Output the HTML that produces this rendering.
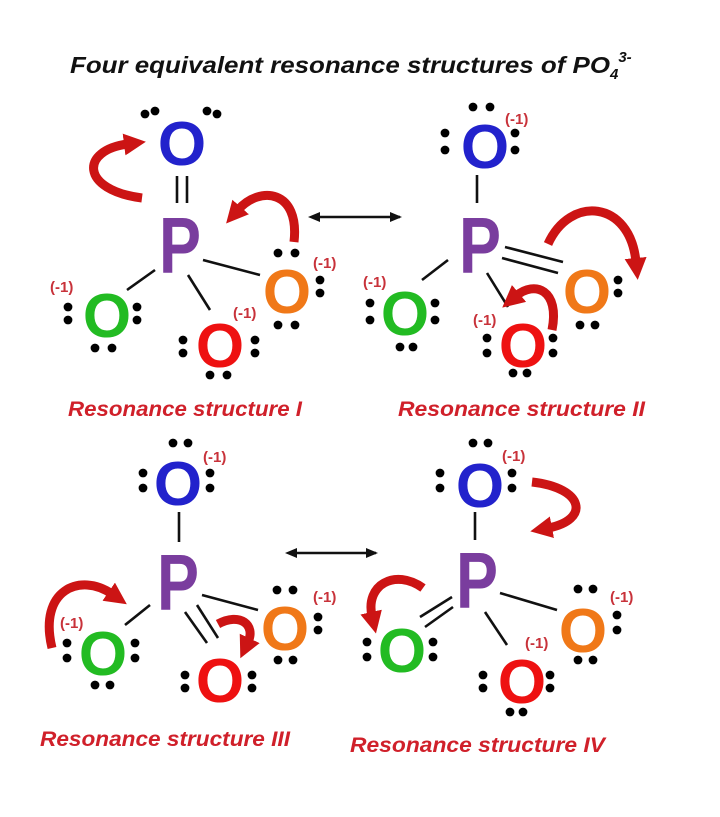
<!DOCTYPE html>
<html><head><meta charset="utf-8"><style>
html,body{margin:0;padding:0;background:#fff;}
svg{display:block;}
.O{font-family:"Liberation Sans",sans-serif;font-weight:bold;font-size:62px;text-anchor:middle;}
.P{font-family:"Liberation Sans",sans-serif;font-weight:bold;font-size:80px;fill:#7a3d9e;text-anchor:middle;}
.c{font-family:"Liberation Sans",sans-serif;font-weight:bold;font-size:15px;fill:#c8323a;}
.lbl{font-family:"Liberation Sans",sans-serif;font-weight:bold;font-style:italic;font-size:21px;fill:#d0202a;}
.t{font-family:"Liberation Sans",sans-serif;font-weight:bold;font-style:italic;font-size:23px;fill:#111;}
.b{stroke:#111;stroke-width:2.6;}
.ra{fill:none;stroke:#cc1414;stroke-width:9;stroke-linecap:butt;}
</style></head><body>
<svg id="s" width="720" height="817" viewBox="0 0 720 817" xmlns="http://www.w3.org/2000/svg">
<defs>
<marker id="h" markerUnits="userSpaceOnUse" markerWidth="24" markerHeight="24" refX="4" refY="12" orient="auto">
<path d="M0,1 L22,12 L0,23 Z" fill="#cc1414"/></marker>
<marker id="k" markerUnits="userSpaceOnUse" markerWidth="12" markerHeight="12" refX="10" refY="6" orient="auto">
<path d="M0,1 L12,6 L0,11 Z" fill="#111"/></marker>
<marker id="ks" markerUnits="userSpaceOnUse" markerWidth="12" markerHeight="12" refX="2" refY="6" orient="auto-start-reverse">
<path d="M0,1 L12,6 L0,11 Z" fill="#111"/></marker>
</defs>
<text class="t" x="70" y="73"><tspan textLength="540" lengthAdjust="spacingAndGlyphs">Four equivalent resonance structures of PO</tspan><tspan font-size="15" dy="6">4</tspan><tspan font-size="15" dy="-17">3-</tspan></text>

<!-- Structure I -->
<line class="b" x1="177" y1="176" x2="177" y2="203"/><line class="b" x1="187" y1="176" x2="187" y2="203"/>
<line class="b" x1="155" y1="270" x2="127" y2="290"/>
<line class="b" x1="188" y1="275" x2="210" y2="310"/>
<line class="b" x1="203" y1="260" x2="260" y2="275"/>
<text class="O" x="182" y="165" fill="#2222cc">O</text>
<text class="P" x="180" y="273" textLength="42" lengthAdjust="spacingAndGlyphs">P</text>
<text class="O" x="107" y="337" fill="#22bb22">O</text>
<text class="O" x="220" y="367" fill="#ee1111">O</text>
<text class="O" x="287" y="313" fill="#f07818">O</text>
<text class="c" x="50" y="292">(-1)</text>
<text class="c" x="233" y="318">(-1)</text>
<text class="c" x="313" y="268">(-1)</text>
<path class="ra" d="M142,198 C80,190 80,150 128,144" marker-end="url(#h)"/>
<path class="ra" d="M294,242 C300,190 260,185 238,210" marker-end="url(#h)"/>
<text class="lbl" x="68" y="416" textLength="234" lengthAdjust="spacingAndGlyphs">Resonance structure I</text>

<line x1="318" y1="217" x2="400" y2="217" stroke="#111" stroke-width="2.6" marker-start="url(#ks)" marker-end="url(#k)"/>

<!-- Structure II -->
<line class="b" x1="477" y1="175" x2="477" y2="203"/>
<line class="b" x1="448" y1="260" x2="422" y2="280"/>
<line class="b" x1="505" y1="247" x2="563" y2="262"/><line class="b" x1="502" y1="258" x2="558" y2="273"/>
<line class="b" x1="487" y1="273" x2="508" y2="307"/>
<text class="O" x="485" y="168" fill="#2222cc">O</text>
<text class="P" x="480" y="273" textLength="42" lengthAdjust="spacingAndGlyphs">P</text>
<text class="O" x="405" y="335" fill="#22bb22">O</text>
<text class="O" x="587" y="313" fill="#f07818">O</text>
<text class="O" x="523" y="367" fill="#ee1111">O</text>
<text class="c" x="505" y="124">(-1)</text>
<text class="c" x="363" y="287">(-1)</text>
<text class="c" x="473" y="325">(-1)</text>
<path class="ra" d="M548,244 C570,195 630,200 636,262" marker-end="url(#h)"/>
<path class="ra" d="M552,330 C560,290 535,280 516,296" marker-end="url(#h)"/>
<text class="lbl" x="398" y="416" textLength="247" lengthAdjust="spacingAndGlyphs">Resonance structure II</text>

<!-- Structure III -->
<line class="b" x1="179" y1="512" x2="179" y2="542"/>
<line class="b" x1="150" y1="605" x2="125" y2="625"/>
<line class="b" x1="202" y1="595" x2="258" y2="610"/>
<line class="b" x1="185" y1="612" x2="207" y2="643"/><line class="b" x1="197" y1="605" x2="218" y2="638"/>
<text class="O" x="178" y="505" fill="#2222cc">O</text>
<text class="P" x="178" y="610" textLength="42" lengthAdjust="spacingAndGlyphs">P</text>
<text class="O" x="103" y="675" fill="#22bb22">O</text>
<text class="O" x="220" y="702" fill="#ee1111">O</text>
<text class="O" x="285" y="650" fill="#f07818">O</text>
<text class="c" x="203" y="462">(-1)</text>
<text class="c" x="60" y="628">(-1)</text>
<text class="c" x="313" y="602">(-1)</text>
<path class="ra" d="M52,648 C38,590 80,572 112,594" marker-end="url(#h)"/>
<path class="ra" d="M218,624 C240,612 256,625 248,642" marker-end="url(#h)"/>
<text class="lbl" x="40" y="746" textLength="250" lengthAdjust="spacingAndGlyphs">Resonance structure III</text>

<line x1="295" y1="553" x2="376" y2="553" stroke="#111" stroke-width="2.6" marker-start="url(#ks)" marker-end="url(#k)"/>

<!-- Structure IV -->
<line class="b" x1="475" y1="512" x2="475" y2="540"/>
<line class="b" x1="452" y1="597" x2="420" y2="617"/><line class="b" x1="453" y1="607" x2="425" y2="627"/>
<line class="b" x1="485" y1="612" x2="507" y2="645"/>
<line class="b" x1="500" y1="593" x2="557" y2="610"/>
<text class="O" x="480" y="507" fill="#2222cc">O</text>
<text class="P" x="477" y="608" textLength="42" lengthAdjust="spacingAndGlyphs">P</text>
<text class="O" x="402" y="672" fill="#22bb22">O</text>
<text class="O" x="522" y="703" fill="#ee1111">O</text>
<text class="O" x="583" y="652" fill="#f07818">O</text>
<text class="c" x="502" y="461">(-1)</text>
<text class="c" x="525" y="648">(-1)</text>
<text class="c" x="610" y="602">(-1)</text>
<path class="ra" d="M532,482 C585,488 590,520 548,528" marker-end="url(#h)"/>
<path class="ra" d="M423,588 C395,568 365,585 372,616" marker-end="url(#h)"/>
<text class="lbl" x="350" y="752" textLength="255" lengthAdjust="spacingAndGlyphs">Resonance structure IV</text>
</svg>
<script>
var d=[
[145,114],[155,111],[207,111],[217,114],
[68,307],[68,320],[137,307],[137,320],[95,348],[112,348],
[183,340],[183,353],[255,340],[255,353],[210,375],[227,375],
[278,253],[295,253],[320,280],[320,293],[278,325],[295,325],
[473,107],[490,107],[445,133],[445,150],[515,133],[515,150],
[370,303],[370,320],[435,303],[435,320],[400,347],[413,347],
[618,280],[618,293],[580,325],[595,325],
[487,338],[487,353],[553,338],[553,353],[513,373],[527,373],
[173,443],[188,443],[143,473],[143,488],[210,473],[210,488],
[67,643],[67,658],[135,643],[135,658],[95,685],[110,685],
[185,675],[185,688],[252,675],[252,688],
[277,590],[293,590],[318,617],[318,630],[278,660],[293,660],
[473,443],[488,443],[440,473],[440,488],[512,473],[512,488],
[367,642],[367,657],[433,642],[433,657],
[483,675],[483,688],[550,675],[550,688],[510,712],[523,712],
[578,589],[593,589],[617,615],[617,630],[578,660],[593,660]];
var s=document.getElementById('s'),ns='http://www.w3.org/2000/svg';
d.forEach(function(p){var c=document.createElementNS(ns,'circle');c.setAttribute('cx',p[0]);c.setAttribute('cy',p[1]);c.setAttribute('r',4.4);c.setAttribute('fill','#000');s.appendChild(c);});
</script>
</body></html>
